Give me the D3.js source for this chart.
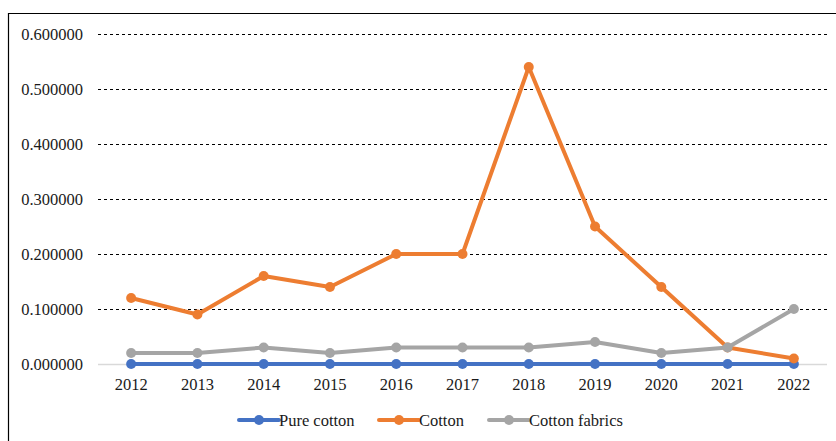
<!DOCTYPE html>
<html>
<head>
<meta charset="utf-8">
<script src="https://cdn.jsdelivr.net/npm/d3@7"></script>
<style>
  body { margin: 0; background: #fff; }
  svg text { font-family: "Liberation Serif", "Times New Roman", serif; fill: #1a1a1a; }
</style>
</head>
<body>
<svg id="chart" width="836" height="441"></svg>
<script>
// data
years = ['2012', '2013', '2014', '2015', '2016', '2017', '2018', '2019', '2020', '2021', '2022']
pureCotton = [0, 0, 0, 0, 0, 0, 0, 0, 0, 0, 0]
cotton = [0.12, 0.09, 0.16, 0.14, 0.20, 0.20, 0.54, 0.25, 0.14, 0.03, 0.01]
cottonFabrics = [0.02, 0.02, 0.03, 0.02, 0.03, 0.03, 0.03, 0.04, 0.02, 0.03, 0.10]
yTicks = [0, 0.1, 0.2, 0.3, 0.4, 0.5, 0.6]

series = [
  { name: 'Pure cotton', values: pureCotton, colour: '#4472c4' },
  { name: 'Cotton', values: cotton, colour: '#ed7d31' },
  { name: 'Cotton fabrics', values: cottonFabrics, colour: '#a5a5a5' }
]

svg = d3.select('#chart')

// outer frame (top and left only show)
svg.append('path')
   .attr('d', 'M8.5,441 V13.5 H836')
   .attr('fill', 'none')
   .attr('stroke', '#000')
   .attr('stroke-width', 1.2)

x = d3.scaleBand()
      .domain(years)
      .range([98, 827])

y = d3.scaleLinear()
      .domain([0, 0.6])
      .range([364, 34])

// gridlines
svg.append('g')
   .selectAll('line')
   .data(yTicks.filter(function(d) { return d > 0 }))
   .enter()
   .append('line')
   .attr('x1', 98)
   .attr('x2', 827)
   .attr('y1', function(d) { return Math.round(y(d)) + 0.5 })
   .attr('y2', function(d) { return Math.round(y(d)) + 0.5 })
   .attr('stroke', '#000')
   .attr('stroke-width', 1)
   .attr('stroke-dasharray', '3,3')

// zero line
svg.append('line')
   .attr('x1', 98)
   .attr('x2', 827)
   .attr('y1', y(0) + 0.5)
   .attr('y2', y(0) + 0.5)
   .attr('stroke', '#d9d9d9')
   .attr('stroke-width', 1.5)

// y axis labels
svg.append('g')
   .selectAll('text')
   .data(yTicks)
   .enter()
   .append('text')
   .attr('x', 83)
   .attr('y', function(d) { return y(d) })
   .attr('dy', '0.35em')
   .attr('text-anchor', 'end')
   .style('font-size', '16.5px')
   .text(function(d) { return d.toFixed(6) })

// x axis labels
svg.append('g')
   .selectAll('text')
   .data(years)
   .enter()
   .append('text')
   .attr('x', function(d) { return x(d) + x.bandwidth() / 2 })
   .attr('y', 390)
   .attr('text-anchor', 'middle')
   .style('font-size', '16.5px')
   .text(function(d) { return d })

line = d3.line()
         .x(function(d, i) { return x(years[i]) + x.bandwidth() / 2 })
         .y(function(d) { return y(d) })

series.forEach(function(s) {
  g = svg.append('g')
  g.append('path')
   .attr('d', line(s.values))
   .attr('fill', 'none')
   .attr('stroke', s.colour)
   .attr('stroke-width', 4)
   .attr('stroke-linejoin', 'round')
  g.selectAll('circle')
   .data(s.values)
   .enter()
   .append('circle')
   .attr('cx', function(d, i) { return x(years[i]) + x.bandwidth() / 2 })
   .attr('cy', function(d) { return y(d) })
   .attr('r', 5)
   .attr('fill', s.colour)
})

// legend
legendX = [239, 379, 489]
legend = svg.append('g')
series.forEach(function(s, i) {
  lg = legend.append('g').attr('transform', 'translate(' + legendX[i] + ',420)')
  lg.append('line')
    .attr('x1', 0).attr('x2', 40)
    .attr('stroke', s.colour)
    .attr('stroke-width', 4)
    .attr('stroke-linecap', 'round')
  lg.append('circle')
    .attr('cx', 20)
    .attr('r', 5)
    .attr('fill', s.colour)
  lg.append('text')
    .attr('x', 40)
    .attr('dy', '0.35em')
    .style('font-size', '16.5px')
    .text(s.name)
})
</script>
</body>
</html>
